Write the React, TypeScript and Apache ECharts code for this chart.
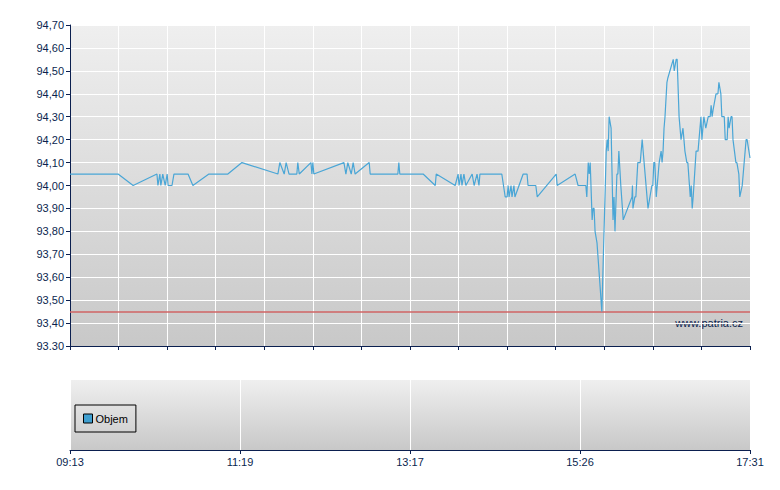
import React, { useEffect, useRef } from "react";
import * as echarts from "echarts";

// trade position along the session (0..140, axis units) and traded price
const tradePos = [
  0, 9.9, 13.0, 17.9, 18.1, 18.5, 18.7, 19.1, 19.6, 20.0, 20.2, 21.0, 21.4, 24.3, 25.3, 28.6, 32.5, 35.4,
  42.8, 43.2, 44.1, 44.5, 45.1, 46.7, 46.9, 47.2, 49.6, 49.8, 50.0, 50.2, 56.4, 56.8, 57.2, 57.9, 58.3, 58.7,
  61.6, 61.8, 67.5, 67.7, 67.9, 72.7, 75.2, 75.4, 79.3, 79.9, 80.1, 80.5, 80.7, 81.1, 81.5, 82.8, 83.2, 83.8,
  84.2, 84.4, 88.9, 89.6, 90.0, 90.2, 90.4, 90.8, 91.0, 91.4, 91.6, 93.3, 94.1, 94.3, 95.9, 96.2, 100.1, 100.3,
  104.0, 104.6, 106.2, 106.4, 106.7, 106.9, 107.1, 107.5, 107.7, 107.9, 108.1, 108.5, 109.5, 110.4, 110.6,
  110.8, 111.0, 111.4, 111.8, 112.0, 112.2, 112.6, 112.8, 113.0, 113.4, 113.9, 115.7, 115.8, 115.9, 116.3,
  116.5, 116.9, 117.4, 117.8, 119.0, 119.4, 119.8, 120.0, 120.2, 120.4, 120.7, 120.9, 121.3, 121.7, 121.9,
  122.1, 122.3, 122.5, 122.9, 123.1, 124.2, 124.4, 124.8, 125.0, 125.4, 125.8, 126.2, 126.4, 126.6, 127.0,
  127.2, 127.7, 127.9, 128.1, 128.3, 128.9, 129.3, 129.9, 130.1, 130.5, 130.9, 131.4, 131.8, 132.0, 132.2,
  132.4, 133.0, 133.4, 133.6, 134.0, 134.2, 134.7, 134.9, 135.3, 135.5, 135.7, 136.1, 136.3, 136.5, 137.1,
  137.3, 137.7, 137.9, 138.4, 138.6, 139.2, 139.4, 140,
];
const prices = [
  94.05, 94.05, 94.0, 94.05, 94.0, 94.05, 94.0, 94.05, 94.0, 94.05, 94.0, 94.0, 94.05, 94.05, 94.0, 94.05, 94.05, 94.1,
  94.05, 94.1, 94.05, 94.1, 94.05, 94.05, 94.1, 94.05, 94.1, 94.05, 94.1, 94.05, 94.1, 94.05, 94.1, 94.05, 94.1, 94.05,
  94.1, 94.05, 94.05, 94.1, 94.05, 94.05, 94.0, 94.05, 94.0, 94.05, 94.0, 94.05, 94.0, 94.05, 94.0, 94.05, 94.0, 94.05,
  94.0, 94.05, 94.05, 93.95, 93.95, 94.0, 93.95, 94.0, 93.95, 94.0, 93.95, 94.05, 94.05, 94.0, 94.0, 93.95, 94.05, 94.0,
  94.05, 94.0, 94.0, 93.95, 94.1, 94.05, 94.1, 93.85, 93.9, 93.9, 93.8, 93.75, 93.45, 94.15, 94.2,
  94.15, 94.3, 94.25, 93.85, 93.95, 93.8, 94.05, 94.05, 94.15, 94.0, 93.85, 93.95, 94.0, 93.9, 93.95,
  93.95, 94.1, 94.1, 94.2, 93.9, 93.95, 94.0, 94.0, 94.1, 94.1, 93.95, 94.0, 94.1, 94.15, 94.1,
  94.15, 94.25, 94.3, 94.45, 94.47, 94.55, 94.5, 94.55, 94.55, 94.3, 94.2, 94.25, 94.2, 94.15, 94.1,
  94.1, 93.95, 94.0, 93.9, 93.95, 94.15, 94.15, 94.3, 94.2, 94.3, 94.25, 94.3, 94.3, 94.35, 94.3,
  94.33, 94.4, 94.4, 94.45, 94.4, 94.3, 94.3, 94.2, 94.2, 94.3, 94.25, 94.3, 94.3, 94.2, 94.1,
  94.1, 94.05, 93.95, 94.0, 94.05, 94.2, 94.2, 94.12,
];
const referencePrice = 93.45;
const timeLabels = ["09:13", "11:19", "13:17", "15:26", "17:31"];
const volumeName = "Objem";

const NAVY = "#0b1f4f";
const FONT = "Arial, 'Liberation Sans', sans-serif";

export default function App() {
  const ref = useRef<HTMLDivElement>(null);
  useEffect(() => {
    if (!ref.current) return;
    const chart = echarts.init(ref.current, undefined, { renderer: "svg" });
    const bg = () =>
      new echarts.graphic.LinearGradient(0, 0, 0, 1, [
        { offset: 0, color: "#efefef" },
        { offset: 1, color: "#c8c8c8" },
      ]);
    const data = tradePos.map((p, i) => [p, prices[i]]);
    chart.setOption({
      animation: false,
      textStyle: { fontFamily: FONT },
      grid: [
        { left: 70, right: 30, top: 25, height: 321, show: true, backgroundColor: bg(), borderWidth: 0 },
        { left: 70, right: 30, top: 380, height: 70, show: true, backgroundColor: bg(), borderWidth: 0 },
      ],
      legend: {
        data: [volumeName],
        left: 75,
        top: 405,
        orient: "vertical",
        borderColor: "#000",
        borderWidth: 1,
        borderRadius: 0,
        padding: [8, 8, 8, 8],
        itemWidth: 9,
        itemHeight: 9,
        itemGap: 4,
        icon: "rect",
        itemStyle: { borderColor: "#000", borderWidth: 1 },
        textStyle: { fontSize: 11, color: "#000", fontFamily: FONT, padding: [0, 0, 0, -2] },
        selectedMode: false,
      },
      xAxis: [
        {
          gridIndex: 0,
          type: "value",
          min: 0,
          max: 140,
          interval: 10,
          axisLine: { lineStyle: { color: NAVY, width: 1 } },
          axisTick: { show: true, length: 4, lineStyle: { color: NAVY } },
          axisLabel: { show: false },
          splitLine: { show: true, lineStyle: { color: "#ffffff", width: 1 } },
        },
        {
          gridIndex: 1,
          type: "value",
          min: 0,
          max: 140,
          interval: 35,
          axisLine: { lineStyle: { color: NAVY, width: 1 } },
          axisTick: { show: true, length: 4, lineStyle: { color: NAVY } },
          axisLabel: {
            color: NAVY,
            fontSize: 11,
            fontFamily: FONT,
            margin: 6,
            formatter: (v: number) => timeLabels[Math.round(v / 35)] ?? "",
          },
          splitLine: { show: true, lineStyle: { color: "#ffffff", width: 1 } },
        },
      ],
      yAxis: [
        {
          gridIndex: 0,
          type: "value",
          min: 93.3,
          max: 94.7,
          interval: 0.1,
          axisLine: { show: true, lineStyle: { color: NAVY, width: 1 } },
          axisTick: { show: true, length: 4, lineStyle: { color: NAVY } },
          axisLabel: {
            color: NAVY,
            fontSize: 11,
            fontFamily: FONT,
            margin: 6,
            formatter: (v: number) => {
              const s = v.toFixed(2);
              return v < 93.35 ? s : s.replace(".", ",");
            },
          },
          splitLine: { show: true, lineStyle: { color: "#ffffff", width: 1 } },
        },
        {
          gridIndex: 1,
          type: "value",
          min: 0,
          max: 1,
          show: false,
          splitLine: { show: false },
        },
      ],
      series: [
        {
          name: "price",
          type: "line",
          xAxisIndex: 0,
          yAxisIndex: 0,
          data,
          showSymbol: false,
          symbol: "none",
          lineStyle: { color: "#4aa6d6", width: 1.2 },
          z: 3,
          markLine: {
            silent: true,
            symbol: "none",
            label: { show: false },
            lineStyle: { color: "#d06464", width: 1.5, type: "solid" },
            data: [{ yAxis: referencePrice }],
            z: 2,
          },
        },
        {
          name: volumeName,
          type: "bar",
          xAxisIndex: 1,
          yAxisIndex: 1,
          data: [],
          itemStyle: { color: "#3f9fd0" },
        },
      ],
      graphic: [
        {
          type: "text",
          right: 37,
          top: 317,
          style: { text: "www.patria.cz", fill: NAVY, font: `11px ${FONT}` },
        },
      ],
    });
    return () => chart.dispose();
  }, []);
  return (
    <div
      ref={ref}
      style={{ position: "absolute", left: 0, top: 0, width: 780, height: 490 }}
    />
  );
}
